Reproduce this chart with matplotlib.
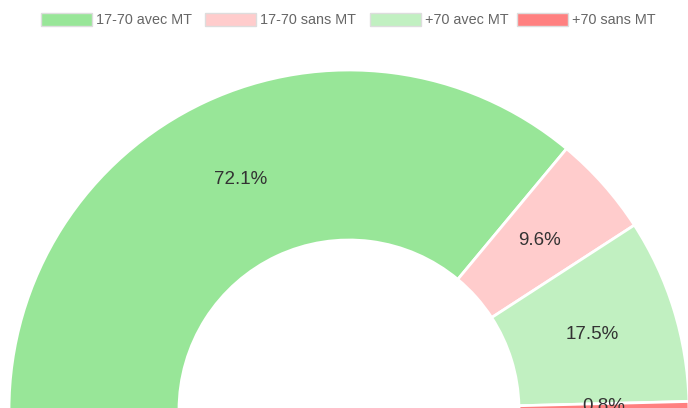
import matplotlib
matplotlib.use("Agg")
import matplotlib.pyplot as plt
from matplotlib.patches import Rectangle
import numpy as np

plt.rcParams['font.family'] = ['Liberation Sans', 'DejaVu Sans']

# data
labels = ["17-70 avec MT", "17-70 sans MT", "+70 avec MT", "+70 sans MT"]
values = [72.1, 9.6, 17.5, 0.8]
colors = ["#98e698", "#ffcccc", "#c1f0c1", "#ff8080"]

fig = plt.figure(figsize=(6.88, 4.08), dpi=100)
ax = fig.add_axes([0, 0, 1, 1])

# half doughnut: add a hidden wedge equal to the total so the shown part spans 180 degrees
total = sum(values)
wedges, _ = ax.pie(values + [total], colors=colors + ["none"], startangle=180,
                   counterclock=False, radius=340, center=(349, -2),
                   wedgeprops=dict(width=170, edgecolor="white", linewidth=2))
wedges[-1].set_edgecolor("none")

# percentage labels in the middle of each ring piece
start = 180.0
for v in values:
    span = 180.0 * v / total
    mid = np.deg2rad(start - span / 2)
    r = 255
    ax.text(349 + r * np.cos(mid), -2 + r * np.sin(mid), "%.1f%%" % v,
            ha="center", va="center", fontsize=13.5, color="#333333")
    start -= span

ax.set_xlim(0, 688)
ax.set_ylim(0, 408)
ax.set_aspect("equal")
ax.axis("off")

# legend along the top
box_x = [41, 205, 370, 517]
for x0, lab, col in zip(box_x, labels, colors):
    fig.patches.append(Rectangle((x0 / 688, 1 - 26 / 408), 51 / 688, 13 / 408,
                                 transform=fig.transFigure, facecolor=col,
                                 edgecolor="#dddddd", linewidth=1))
    fig.text((x0 + 55) / 688, 1 - 19.5 / 408, lab, ha="left", va="center",
             fontsize=10.4, color="#666666")

fig.savefig("out.png", dpi=100)
